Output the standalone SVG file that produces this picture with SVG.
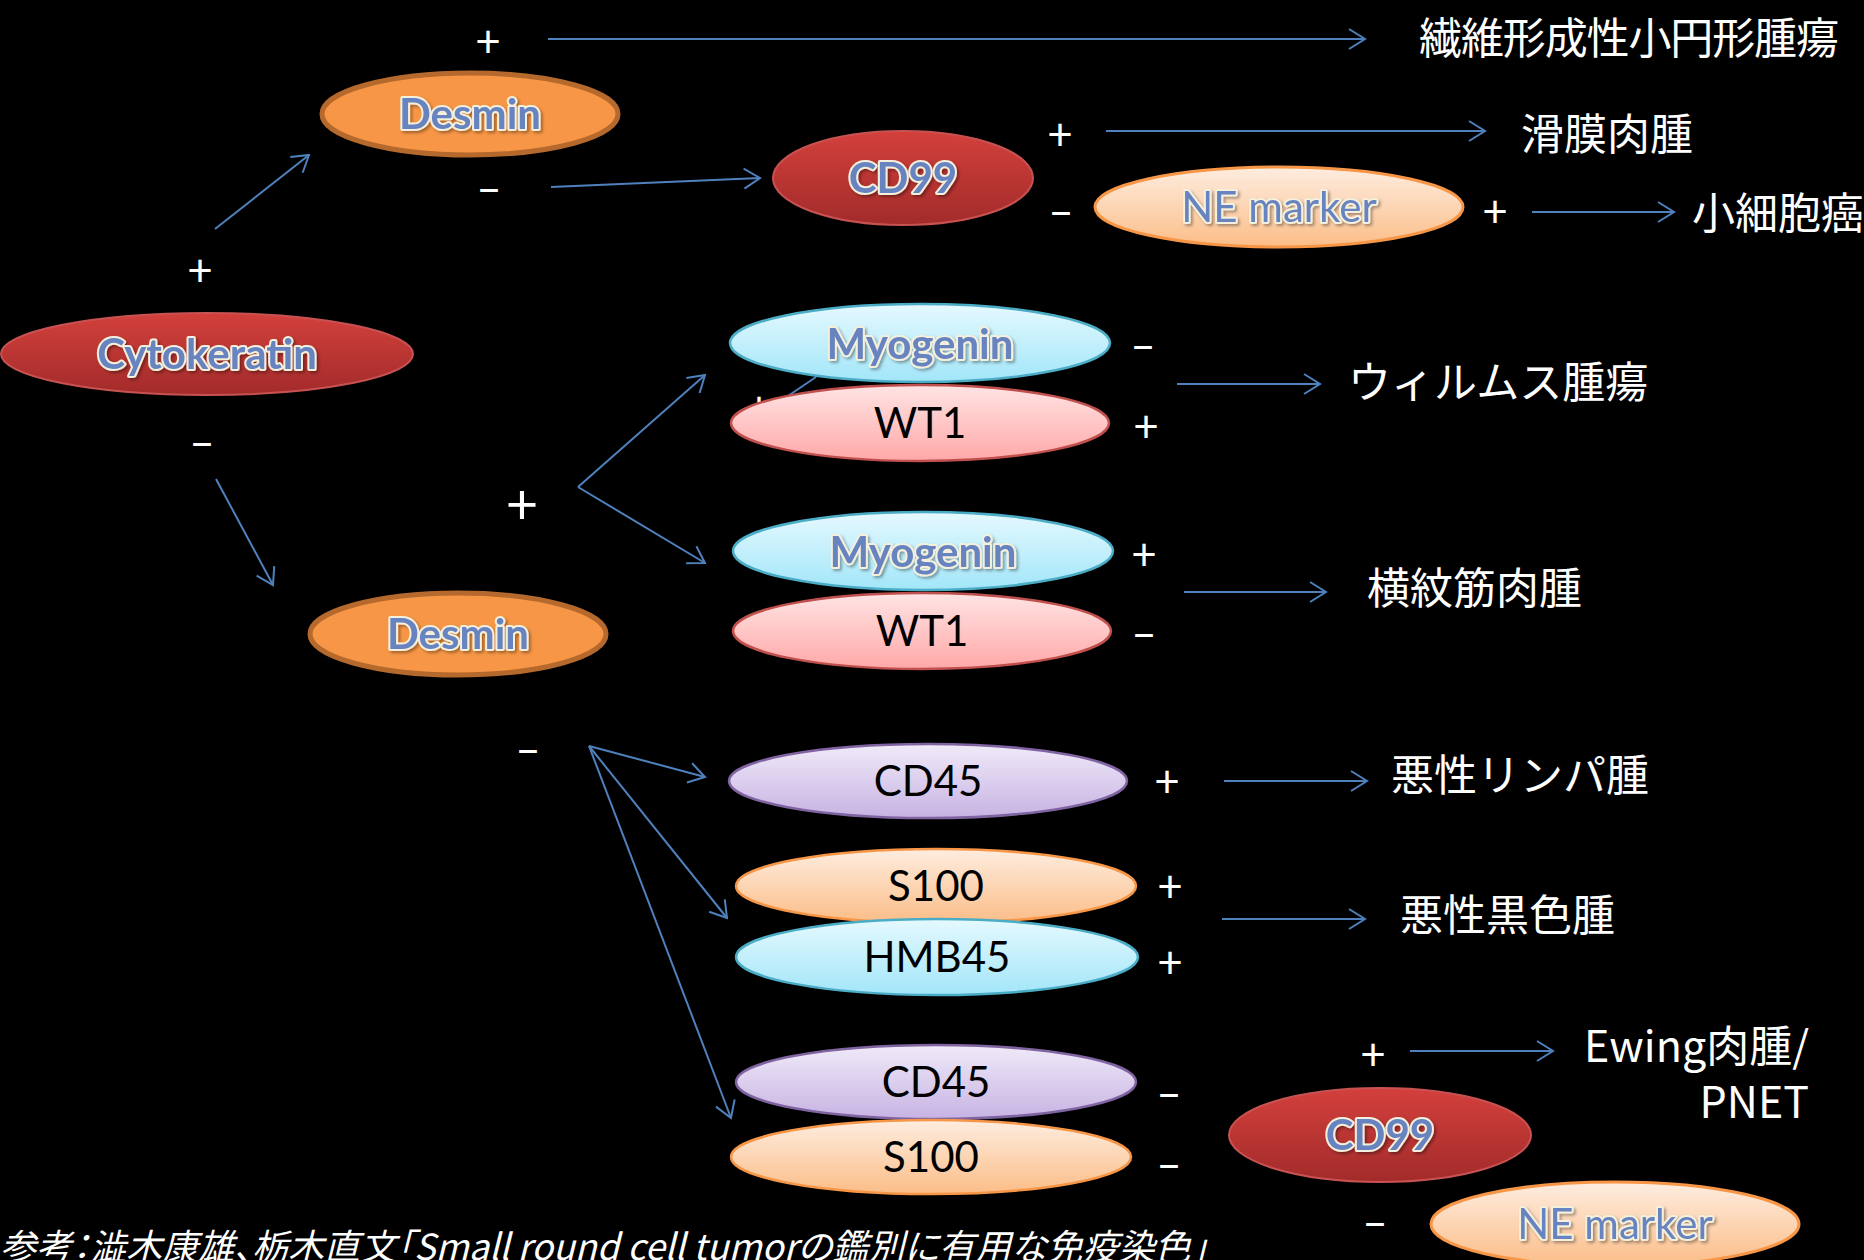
<svg xmlns="http://www.w3.org/2000/svg" width="1864" height="1260" viewBox="0 0 1864 1260">
<defs>
<style>
.lbl{font-family:Lato,"Liberation Sans",sans-serif;font-size:44px;fill:#fff;text-anchor:middle}
.big{font-size:56px}
.res{font-family:"Noto Sans CJK JP","Noto Sans",sans-serif;font-size:43px;fill:#fff}
.wa{font-family:Lato,"Liberation Sans",sans-serif;font-weight:bold;font-size:42px;fill:#6884C0;stroke:#F4F0DC;stroke-width:4;paint-order:stroke;stroke-linejoin:round;text-anchor:middle;filter:url(#sh)}
.tx{font-family:Lato,"Liberation Sans",sans-serif;font-size:42px;fill:#000;text-anchor:middle}
.cn{fill:none;stroke:#4F81BD;stroke-width:2;marker-end:url(#ah)}
.cite{font-family:"Noto Sans CJK JP","Noto Sans",sans-serif;font-size:36px;font-style:italic;fill:#fff;font-feature-settings:"palt"}
</style>
<marker id="ah" viewBox="0 0 20 24" refX="18" refY="12" markerWidth="20" markerHeight="24" markerUnits="userSpaceOnUse" orient="auto">
<path d="M2,2 L18,12 L2,22" fill="none" stroke="#4F81BD" stroke-width="2"/>
</marker>
<filter id="sh" x="-10%" y="-20%" width="130%" height="150%">
<feDropShadow dx="2" dy="2" stdDeviation="1.5" flood-color="#000" flood-opacity="0.35"/>
</filter>
<linearGradient id="gRed" x1="0" y1="0" x2="0" y2="1"><stop offset="0" stop-color="#D3403C"/><stop offset="1" stop-color="#A22B2A"/></linearGradient>
<linearGradient id="gPeach" x1="0" y1="0" x2="0" y2="1"><stop offset="0" stop-color="#FEEDE0"/><stop offset="1" stop-color="#FBBD87"/></linearGradient>
<linearGradient id="gCyan" x1="0" y1="0" x2="0" y2="1"><stop offset="0" stop-color="#E5F9FE"/><stop offset="1" stop-color="#A2E6F9"/></linearGradient>
<linearGradient id="gPink" x1="0" y1="0" x2="0" y2="1"><stop offset="0" stop-color="#FFE4E4"/><stop offset="1" stop-color="#FFA8A8"/></linearGradient>
<linearGradient id="gLav" x1="0" y1="0" x2="0" y2="1"><stop offset="0" stop-color="#F0EAF8"/><stop offset="1" stop-color="#C7B3E3"/></linearGradient>
</defs>
<rect x="0" y="0" width="1864" height="1260" fill="#000"/>

<g id="hidden-fragment">
<line x1="788" y1="396" x2="816" y2="377" stroke="#4F81BD" stroke-width="2"/>
<text class="lbl" x="759" y="423">+</text>
</g>

<g id="connectors">
<line class="cn" x1="548" y1="39" x2="1365" y2="39"/>
<line class="cn" x1="215" y1="229" x2="309" y2="155"/>
<line class="cn" x1="551" y1="187" x2="760" y2="178"/>
<line class="cn" x1="1106" y1="131" x2="1485" y2="131"/>
<line class="cn" x1="1532" y1="212" x2="1674" y2="212"/>
<line class="cn" x1="216" y1="479" x2="273" y2="585"/>
<line class="cn" x1="578" y1="487" x2="705" y2="375"/>
<line class="cn" x1="578" y1="487" x2="705" y2="563"/>
<line class="cn" x1="1177" y1="384" x2="1320" y2="384"/>
<line class="cn" x1="1184" y1="592" x2="1326" y2="592"/>
<line class="cn" x1="589" y1="746" x2="705" y2="777"/>
<line class="cn" x1="589" y1="746" x2="727" y2="918"/>
<line class="cn" x1="589" y1="746" x2="731" y2="1118"/>
<line class="cn" x1="1224" y1="781" x2="1367" y2="781"/>
<line class="cn" x1="1222" y1="919" x2="1365" y2="919"/>
<line class="cn" x1="1410" y1="1051" x2="1553" y2="1051"/>
</g>

<g id="cytokeratin">
<ellipse cx="207" cy="354" rx="206" ry="41" fill="url(#gRed)" stroke="#C85252" stroke-width="2"/>
<text class="wa" x="207" y="369">Cytokeratin</text>
</g>
<g id="desmin-top">
<ellipse cx="470" cy="114" rx="148" ry="41" fill="#F79646" stroke="#B5692D" stroke-width="5"/>
<text class="wa" x="470" y="129">Desmin</text>
</g>
<g id="cd99-top">
<ellipse cx="903" cy="178" rx="130" ry="47" fill="url(#gRed)" stroke="#C85252" stroke-width="2"/>
<text class="wa" x="903" y="193">CD99</text>
</g>
<g id="ne-marker-top">
<ellipse cx="1279" cy="207" rx="184" ry="40" fill="url(#gPeach)" stroke="#F79646" stroke-width="3"/>
<text class="wa" x="1279" y="222" style="font-weight:normal">NE marker</text>
</g>
<g id="desmin-bottom">
<ellipse cx="458" cy="634" rx="148" ry="41" fill="#F79646" stroke="#B5692D" stroke-width="5"/>
<text class="wa" x="458" y="649">Desmin</text>
</g>
<g id="myogenin-1">
<ellipse cx="920" cy="343" rx="190" ry="39" fill="url(#gCyan)" stroke="#4BACC6" stroke-width="2.5"/>
<text class="wa" x="920" y="359">Myogenin</text>
</g>
<g id="wt1-1">
<ellipse cx="920" cy="423" rx="189" ry="38" fill="url(#gPink)" stroke="#C0504D" stroke-width="2.5"/>
<text class="tx" x="920" y="438">WT1</text>
</g>
<g id="myogenin-2">
<ellipse cx="923" cy="551" rx="190" ry="39" fill="url(#gCyan)" stroke="#4BACC6" stroke-width="2.5"/>
<text class="wa" x="923" y="567">Myogenin</text>
</g>
<g id="wt1-2">
<ellipse cx="922" cy="631" rx="189" ry="38" fill="url(#gPink)" stroke="#C0504D" stroke-width="2.5"/>
<text class="tx" x="922" y="646">WT1</text>
</g>
<g id="cd45-1">
<ellipse cx="928" cy="781" rx="199" ry="37" fill="url(#gLav)" stroke="#8064A2" stroke-width="2.5"/>
<text class="tx" x="928" y="796">CD45</text>
</g>
<g id="s100-1">
<ellipse cx="936" cy="886" rx="200" ry="37" fill="url(#gPeach)" stroke="#F79646" stroke-width="2.5"/>
<text class="tx" x="936" y="901">S100</text>
</g>
<g id="hmb45">
<ellipse cx="937" cy="957" rx="201" ry="38" fill="url(#gCyan)" stroke="#4BACC6" stroke-width="2.5"/>
<text class="tx" x="937" y="972">HMB45</text>
</g>
<g id="cd45-2">
<ellipse cx="936" cy="1082" rx="200" ry="37" fill="url(#gLav)" stroke="#8064A2" stroke-width="2.5"/>
<text class="tx" x="936" y="1097">CD45</text>
</g>
<g id="s100-2">
<ellipse cx="931" cy="1157" rx="200" ry="37" fill="url(#gPeach)" stroke="#F79646" stroke-width="2.5"/>
<text class="tx" x="931" y="1172">S100</text>
</g>
<g id="cd99-bottom">
<ellipse cx="1380" cy="1135" rx="151" ry="47" fill="url(#gRed)" stroke="#C85252" stroke-width="2"/>
<text class="wa" x="1380" y="1150">CD99</text>
</g>
<g id="ne-marker-bottom">
<ellipse cx="1615" cy="1224" rx="184" ry="42" fill="url(#gPeach)" stroke="#F79646" stroke-width="3"/>
<text class="wa" x="1615" y="1239" style="font-weight:normal">NE marker</text>
</g>

<g id="signs">
<text class="lbl" x="488" y="57">+</text>
<text class="lbl" x="200" y="286">+</text>
<text class="lbl" x="489" y="204">–</text>
<text class="lbl" x="202" y="458">–</text>
<text class="lbl" x="1060" y="150">+</text>
<text class="lbl" x="1061" y="227">–</text>
<text class="lbl" x="1495" y="227">+</text>
<text class="lbl" x="1143" y="361">–</text>
<text class="lbl" x="1146" y="442">+</text>
<text class="lbl big" x="522" y="524">+</text>
<text class="lbl" x="1144" y="570">+</text>
<text class="lbl" x="1144" y="649">–</text>
<text class="lbl" x="528" y="765">–</text>
<text class="lbl" x="1167" y="797">+</text>
<text class="lbl" x="1170" y="902">+</text>
<text class="lbl" x="1170" y="978">+</text>
<text class="lbl" x="1169" y="1109">–</text>
<text class="lbl" x="1169" y="1180">–</text>
<text class="lbl" x="1373" y="1070">+</text>
<text class="lbl" x="1375" y="1238">–</text>
</g>

<g id="results">
<text class="res" x="1419" y="54" textLength="420" lengthAdjust="spacing">繊維形成性小円形腫瘍</text>
<text class="res" x="1521" y="150">滑膜肉腫</text>
<text class="res" x="1692" y="229">小細胞癌</text>
<text class="res" x="1348" y="398">ウィルムス腫瘍</text>
<text class="res" x="1367" y="604">横紋筋肉腫</text>
<text class="res" x="1391" y="791">悪性リンパ腫</text>
<text class="res" x="1400" y="931">悪性黒色腫</text>
<text class="res" x="1809" y="1062" text-anchor="end">Ewing肉腫/</text>
<text class="res" x="1809" y="1118" text-anchor="end">PNET</text>
</g>

<text class="cite" x="0" y="1260">参考：澁木康雄、栃木直文「Small round cell tumorの鑑別に有用な免疫染色」</text>
</svg>
